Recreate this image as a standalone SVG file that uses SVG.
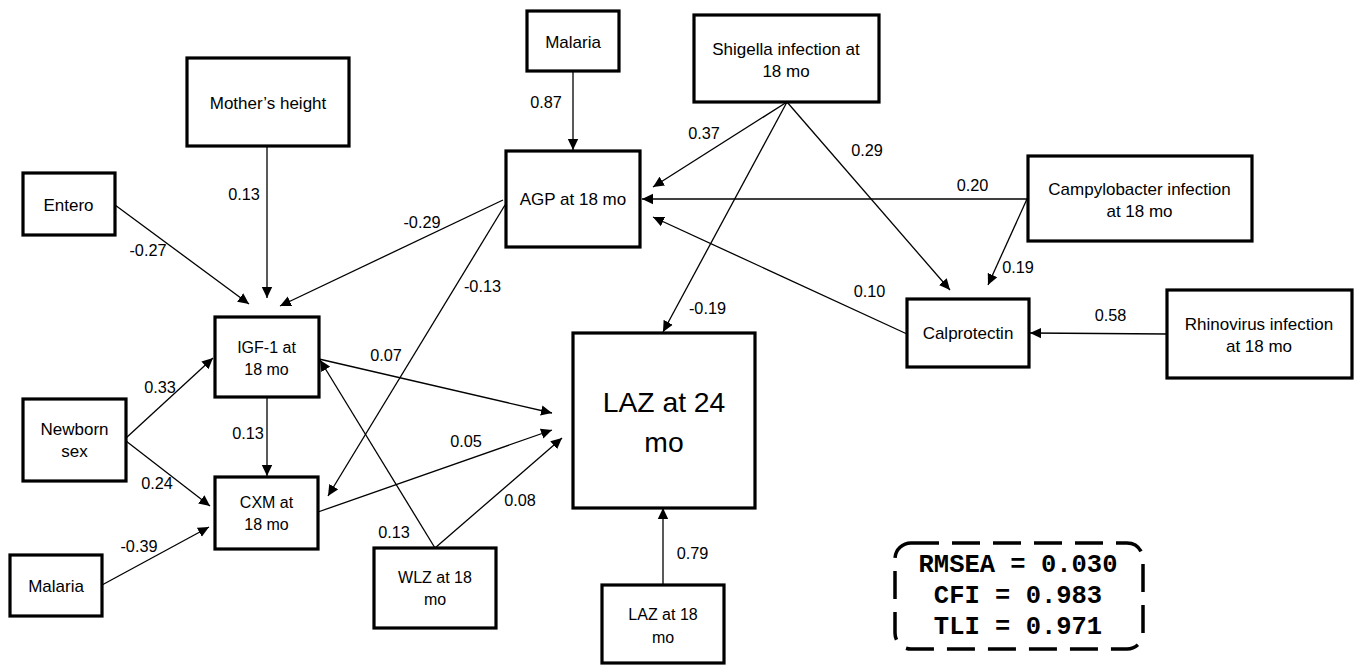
<svg xmlns="http://www.w3.org/2000/svg" width="1354" height="665" viewBox="0 0 1354 665">
<style>
.box{fill:#fff;stroke:#000;stroke-width:3.2}
.t{font-family:"Liberation Sans",Arial,sans-serif;font-size:17px;fill:#000;text-anchor:middle}
.s{font-size:16px}
.big{font-size:28.3px}
.lbl{font-family:"Liberation Sans",Arial,sans-serif;font-size:16.3px;fill:#000;text-anchor:middle}
.c{stroke:#000;stroke-width:1.3;fill:none;marker-end:url(#ah)}
.fit{font-family:"Liberation Mono","Courier New",monospace;font-weight:bold;font-size:25.5px;fill:#000;text-anchor:middle}
</style>
<defs>
<marker id="ah" markerUnits="userSpaceOnUse" markerWidth="12" markerHeight="12" viewBox="0 0 12 12" refX="11" refY="6" orient="auto">
<path d="M0,0.8 L11,6 L0,11.2 z" fill="#000"/>
</marker>
</defs>
<rect width="1354" height="665" fill="#fff"/>
<g id="connectors">
<line class="c" x1="267" y1="146" x2="267" y2="298"/>
<line class="c" x1="115" y1="205" x2="249" y2="304"/>
<line class="c" x1="503" y1="200" x2="280" y2="306"/>
<line class="c" x1="573" y1="71" x2="573" y2="150"/>
<line class="c" x1="787" y1="102" x2="653" y2="187"/>
<line class="c" x1="787" y1="102" x2="663" y2="332"/>
<line class="c" x1="787" y1="102" x2="950" y2="290"/>
<line class="c" x1="1028" y1="199" x2="642" y2="199"/>
<line class="c" x1="1027" y1="199" x2="988" y2="285"/>
<line class="c" x1="907" y1="334" x2="653" y2="217"/>
<line class="c" x1="1167" y1="334" x2="1030" y2="333"/>
<line class="c" x1="126" y1="438" x2="213" y2="358"/>
<line class="c" x1="126" y1="441" x2="210" y2="506"/>
<line class="c" x1="267" y1="397" x2="267" y2="476"/>
<line class="c" x1="102" y1="585" x2="209" y2="527"/>
<line class="c" x1="505" y1="205" x2="328" y2="496"/>
<line class="c" x1="435" y1="548" x2="320" y2="360"/>
<line class="c" x1="319" y1="359" x2="552" y2="413"/>
<line class="c" x1="318" y1="512" x2="552" y2="430"/>
<line class="c" x1="435" y1="548" x2="562" y2="438"/>
<line class="c" x1="663" y1="585" x2="663" y2="508"/>
</g>
<g id="labels">
<text class="lbl" x="244" y="200">0.13</text>
<text class="lbl" x="148" y="256">-0.27</text>
<text class="lbl" x="422" y="228">-0.29</text>
<text class="lbl" x="546" y="108">0.87</text>
<text class="lbl" x="704" y="139">0.37</text>
<text class="lbl" x="867" y="155.5">0.29</text>
<text class="lbl" x="482.5" y="292">-0.13</text>
<text class="lbl" x="707.5" y="314">-0.19</text>
<text class="lbl" x="869.5" y="297">0.10</text>
<text class="lbl" x="972.5" y="191">0.20</text>
<text class="lbl" x="1018" y="272.5">0.19</text>
<text class="lbl" x="1110.5" y="321">0.58</text>
<text class="lbl" x="160" y="392.5">0.33</text>
<text class="lbl" x="248" y="439">0.13</text>
<text class="lbl" x="386" y="360.5">0.07</text>
<text class="lbl" x="157" y="489">0.24</text>
<text class="lbl" x="139" y="552">-0.39</text>
<text class="lbl" x="394" y="537.5">0.13</text>
<text class="lbl" x="466" y="447">0.05</text>
<text class="lbl" x="520" y="506">0.08</text>
<text class="lbl" x="692.5" y="559">0.79</text>
</g>
<g id="mothers-height"><rect class="box" x="187" y="58" width="162" height="88"/><text class="t" x="268" y="108.5">Mother’s height</text></g>
<g id="entero"><rect class="box" x="23" y="173" width="92" height="62"/><text class="t" x="68.5" y="210.5">Entero</text></g>
<g id="malaria-top"><rect class="box" x="527" y="11" width="92" height="60"/><text class="t" x="573" y="48.3">Malaria</text></g>
<g id="shigella"><rect class="box" x="694" y="15" width="185" height="87"/><text class="t" x="786" y="55">Shigella infection at</text><text class="t" x="786" y="76.7">18 mo</text></g>
<g id="agp"><rect class="box" x="506" y="151" width="134" height="96"/><text class="t" x="573" y="205">AGP at 18 mo</text></g>
<g id="campylobacter"><rect class="box" x="1028" y="156" width="224" height="85"/><text class="t" x="1139.5" y="195">Campylobacter infection</text><text class="t" x="1139.5" y="216.7">at 18 mo</text></g>
<g id="calprotectin"><rect class="box" x="907" y="299" width="122" height="68"/><text class="t" x="968" y="339.3">Calprotectin</text></g>
<g id="rhinovirus"><rect class="box" x="1167" y="290" width="185" height="88"/><text class="t" x="1259" y="330">Rhinovirus infection</text><text class="t" x="1259" y="352">at 18 mo</text></g>
<g id="igf1"><rect class="box" x="215" y="317" width="104" height="80"/><text class="t s" x="266.5" y="353.3">IGF-1 at</text><text class="t s" x="266.5" y="375">18 mo</text></g>
<g id="newborn-sex"><rect class="box" x="23" y="399" width="103" height="82"/><text class="t" x="74.5" y="435">Newborn</text><text class="t" x="74.5" y="457.3">sex</text></g>
<g id="cxm"><rect class="box" x="215" y="477" width="103" height="72"/><text class="t s" x="266.5" y="508.3">CXM at</text><text class="t s" x="266.5" y="530">18 mo</text></g>
<g id="malaria-bottom"><rect class="box" x="10" y="555" width="92" height="61"/><text class="t" x="56" y="592.3">Malaria</text></g>
<g id="wlz"><rect class="box" x="374" y="548" width="122" height="80"/><text class="t s" x="435" y="583.3">WLZ at 18</text><text class="t s" x="435" y="605">mo</text></g>
<g id="laz24"><rect class="box" x="573" y="333" width="182" height="175"/><text class="t big" x="664" y="411.7">LAZ at 24</text><text class="t big" x="664" y="451.7">mo</text></g>
<g id="laz18"><rect class="box" x="602" y="585" width="122" height="78"/><text class="t s" x="663" y="620">LAZ at 18</text><text class="t s" x="663" y="643.3">mo</text></g>
<g id="fit-indices">
<rect x="895" y="543" width="248" height="106" rx="16" ry="16" fill="none" stroke="#000" stroke-width="3.5" stroke-dasharray="28 13"/>
<text class="fit" x="1018" y="571.7">RMSEA = 0.030</text>
<text class="fit" x="1018" y="603">CFI = 0.983</text>
<text class="fit" x="1018" y="634">TLI = 0.971</text>
</g>
</svg>
